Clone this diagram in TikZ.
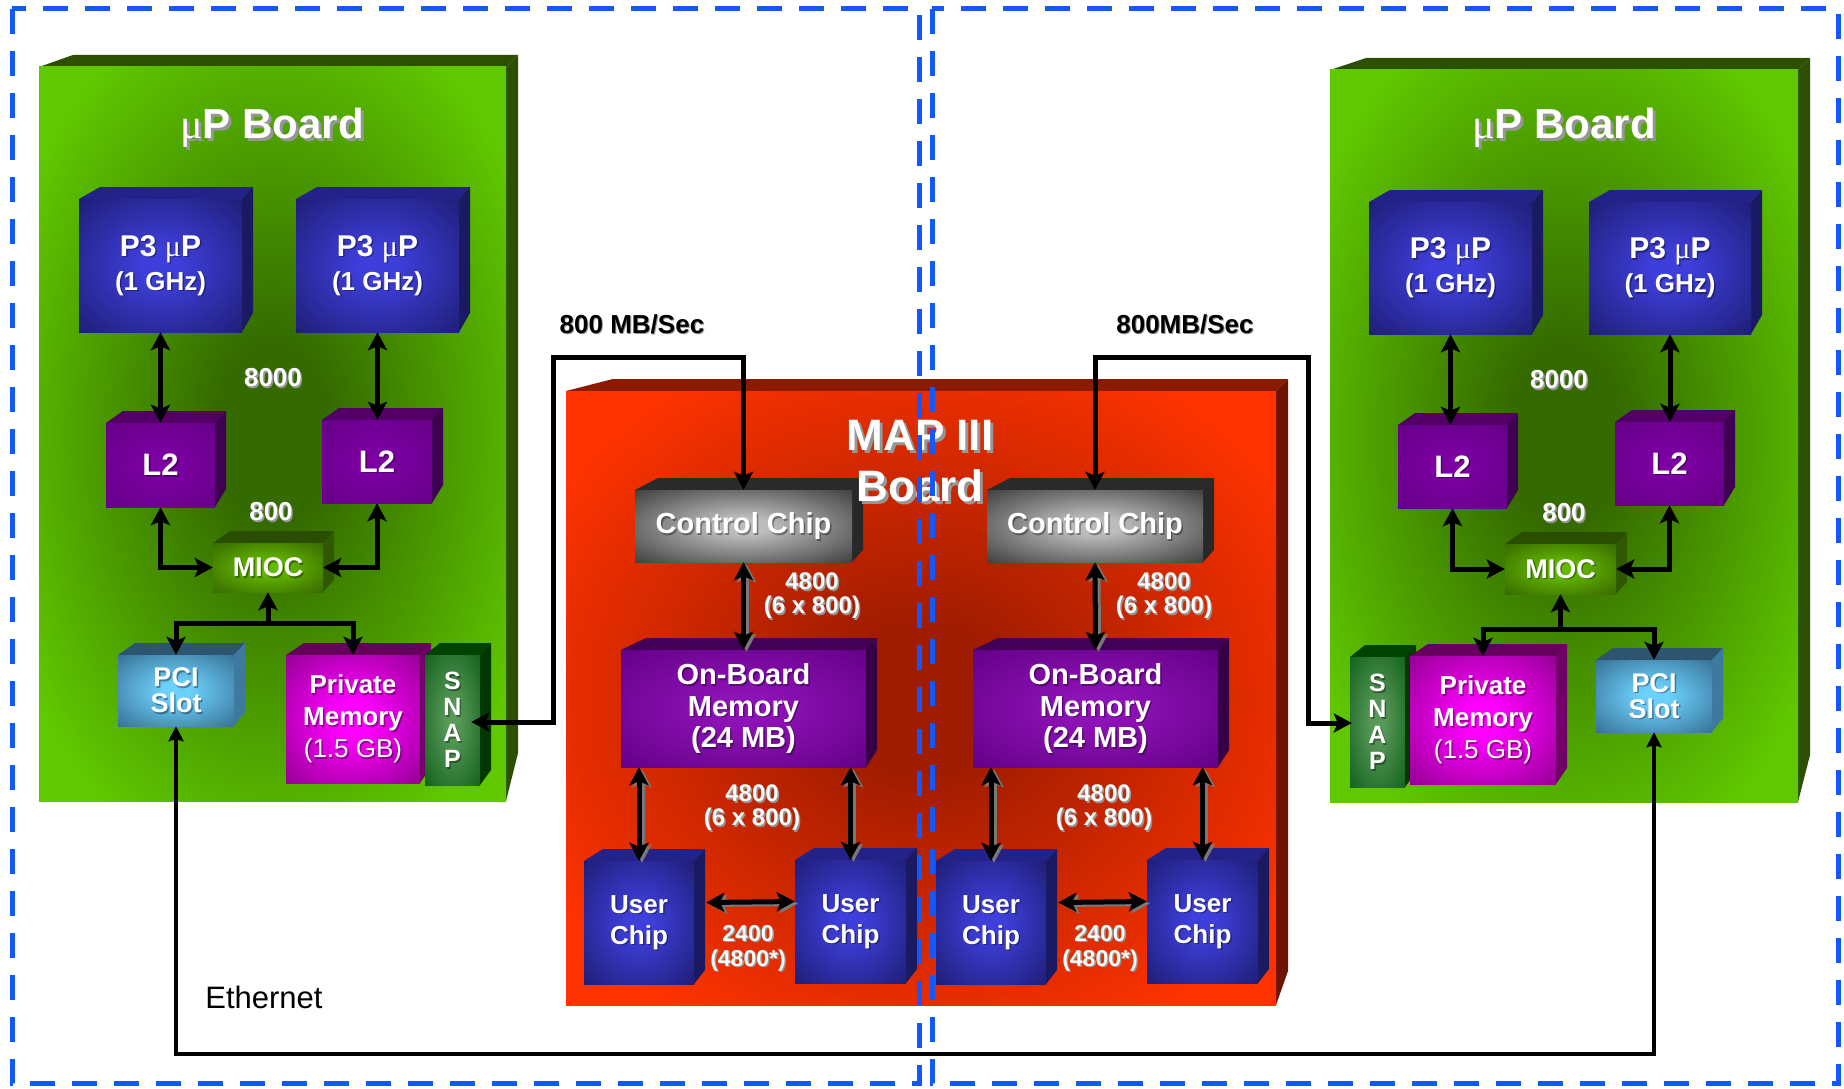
\documentclass[tikz,border=0pt]{standalone}
\usepackage{fontspec}
\setmainfont{Liberation Sans}
\newfontfamily\mufont{Liberation Serif}
\usetikzlibrary{arrows.meta}
\newcommand\muchar{{\mufont\mdseries μ}}
% colours
\definecolor{dashblue}{RGB}{18,88,250}
\definecolor{blueIn}{RGB}{62,62,218}\definecolor{blueOut}{RGB}{30,30,118}\definecolor{blueTop}{RGB}{34,34,136}\definecolor{blueSide}{RGB}{26,26,98}
\definecolor{ltwoIn}{RGB}{124,0,162}\definecolor{ltwoOut}{RGB}{102,0,136}\definecolor{ltwoTop}{RGB}{82,0,102}\definecolor{ltwoSide}{RGB}{62,0,80}
\definecolor{miocIn}{RGB}{100,186,0}\definecolor{miocOut}{RGB}{56,104,0}\definecolor{miocTop}{RGB}{42,78,0}\definecolor{miocSide}{RGB}{48,88,0}
\definecolor{pciIn}{RGB}{108,208,252}\definecolor{pciOut}{RGB}{55,112,148}\definecolor{pciTop}{RGB}{45,85,112}\definecolor{pciSide}{RGB}{62,122,160}
\definecolor{pmIn}{RGB}{255,0,255}\definecolor{pmOut}{RGB}{148,0,148}\definecolor{pmTop}{RGB}{102,0,92}\definecolor{pmSide}{RGB}{112,0,104}
\definecolor{snapIn}{RGB}{88,152,88}\definecolor{snapOut}{RGB}{18,98,28}\definecolor{snapTop}{RGB}{0,66,0}\definecolor{snapSide}{RGB}{0,56,0}
\definecolor{ctlIn}{RGB}{188,188,188}\definecolor{ctlOut}{RGB}{62,62,62}\definecolor{ctlTop}{RGB}{42,42,42}\definecolor{ctlSide}{RGB}{40,40,40}
\definecolor{obmIn}{RGB}{142,18,182}\definecolor{obmOut}{RGB}{100,0,135}\definecolor{obmTop}{RGB}{66,0,86}\definecolor{obmSide}{RGB}{54,0,70}
\definecolor{grnIn}{RGB}{52,106,0}\definecolor{grnOut}{RGB}{96,200,0}\definecolor{grnTop}{RGB}{44,80,0}\definecolor{grnSide}{RGB}{44,80,0}
\definecolor{redIn}{RGB}{160,28,0}\definecolor{redOut}{RGB}{255,51,0}\definecolor{redTop}{RGB}{138,26,0}\definecolor{redSide}{RGB}{108,20,0}
\definecolor{txtsh}{RGB}{150,150,150}
\definecolor{arrsh}{RGB}{120,120,120}
\colorlet{gin}{black}\colorlet{gout}{white}
\pgfdeclareradialshading[gin,gout]{boxglow}{\pgfpoint{0bp}{0bp}}{color(0bp)=(gin);color(6bp)=(gin);color(36bp)=(gout);color(50bp)=(gout)}
\pgfdeclareradialshading[gin,gout]{boardglow}{\pgfpoint{0bp}{0bp}}{color(0bp)=(gin);color(6bp)=(gin);color(31bp)=(gout);color(50bp)=(gout)}
\tikzset{
  lbl/.style={text=white, align=center, inner sep=0pt},
  darr/.style={line width=5pt, arrows={Stealth[length=18pt,width=19pt,inset=4pt]-Stealth[length=18pt,width=19pt,inset=4pt]}},
  sarr/.style={line width=5pt, arrows={-Stealth[length=18pt,width=19pt,inset=4pt]}},
  ethr/.style={line width=3.5pt, arrows={Stealth[length=15pt,width=15pt,inset=2pt]-Stealth[length=15pt,width=15pt,inset=2pt]}},
  dashbox/.style={draw=dashblue, line width=5pt, dash pattern=on 25pt off 17pt}
}
\def\cf{\fontsize{26}{30}\selectfont}
% 3D box: name, x1, y1, x2, y2, colour set, top-left offset, side bottom rise, text (font from \cf)
\newcommand\cube[9]{%
  \colorlet{gin}{#6In}\colorlet{gout}{#6Out}%
  \fill[#6Top] (#2,#3) -- (#2+#7,#3-12) -- (#4+11,#3-12) -- (#4,#3) -- cycle;
  \fill[#6Side] (#4,#3) -- (#4+11,#3-12) -- (#4+11,#5-#8) -- (#4,#5) -- cycle;
  \shade[shading=boxglow] (#2,#3) rectangle (#4,#5);
  \node[lbl, font=\bfseries\cf, text=black, text opacity=0.35] (#1-s) at ({(#2+#4)/2+1.5},{(#3+#5)/2+1.5}) {#9};
  \node[lbl, font=\bfseries\cf, minimum width={#4-#2}, minimum height={#5-#3}] (#1) at ({(#2+#4)/2},{(#3+#5)/2}) {#9};
}
\newcommand\board[7]{%
  \colorlet{gin}{#5In}\colorlet{gout}{#5Out}%
  \fill[#5Top] (#1,#2) -- (#1+#6,#2-12) -- (#3+12,#2-12) -- (#3,#2) -- cycle;
  \fill[#5Side] (#3,#2) -- (#3+12,#2-12) -- (#3+12,#4-#7) -- (#3,#4) -- cycle;
  \shade[shading=boardglow] (#1,#2) rectangle (#3,#4);
}
% shadowed text: name, x, y, font, colour, shadow colour, offset, text
\newcommand\stxt[8]{%
  \node[inner sep=0pt, align=center, font=#4, text=#6] (#1-s) at (#2+#7,#3+#7) {#8};
  \node[inner sep=0pt, align=center, font=#4, text=#5] (#1) at (#2,#3) {#8};
}
\newcommand\redarrow[1]{%
  \draw[darr, color=arrsh, transform canvas={shift={(3pt,-2pt)}}] #1;
  \draw[darr] #1;
}
\begin{document}
\begin{tikzpicture}[x=1pt,y=-1pt]
\fill[white] (0,0) rectangle (1844,1089);
\useasboundingbox (0,0) rectangle (1844,1089);

% boards
\board{39}{67}{506}{801}{grn}{34}{48}
\board{1330}{70}{1798}{802}{grn}{36}{47}
\board{566}{391}{1276}{1005}{red}{47}{34}

% left uP board
\def\cf{\fontsize{30}{34}\selectfont}
\cube{p3a}{79}{199}{242}{332}{blue}{21}{19}{P3 \muchar P\\\fontsize{26}{34}\selectfont (1 GHz)}
\cube{p3b}{296}{199}{459}{332}{blue}{21}{19}{P3 \muchar P\\\fontsize{26}{34}\selectfont (1 GHz)}
\def\cf{\fontsize{31}{34}\selectfont}
\cube{l2a}{106}{423}{215}{507}{ltwo}{17}{18}{L2}
\cube{l2b}{322}{420}{432}{503}{ltwo}{17}{18}{L2}
\def\cf{\fontsize{27}{30}\selectfont}
\cube{mioca}{213}{543}{323}{592}{mioc}{17}{12}{MIOC}
\def\cf{\fontsize{27}{26}\selectfont}
\cube{pcia}{118}{655}{234}{726}{pci}{17}{14}{PCI\\Slot}
\def\cf{\fontsize{26}{32}\selectfont}
\cube{pma}{286}{655}{420}{783}{pm}{18}{16}{Private\\Memory\\\mdseries (1.5 GB)}
\def\cf{\fontsize{25}{26}\selectfont}
\cube{snapa}{425}{655}{480}{785}{snap}{15}{15}{S\\N\\A\\P}

% right uP board
\def\cf{\fontsize{30}{34}\selectfont}
\cube{p3c}{1369}{202}{1532}{334}{blue}{21}{19}{P3 \muchar P\\\fontsize{26}{34}\selectfont (1 GHz)}
\cube{p3d}{1589}{202}{1751}{334}{blue}{21}{19}{P3 \muchar P\\\fontsize{26}{34}\selectfont (1 GHz)}
\def\cf{\fontsize{31}{34}\selectfont}
\cube{l2c}{1398}{425}{1507}{508}{ltwo}{17}{18}{L2}
\cube{l2d}{1615}{422}{1724}{505}{ltwo}{17}{18}{L2}
\def\cf{\fontsize{27}{30}\selectfont}
\cube{miocb}{1505}{544}{1616}{594}{mioc}{17}{12}{MIOC}
\def\cf{\fontsize{25}{26}\selectfont}
\cube{snapb}{1350}{657}{1405}{787}{snap}{15}{15}{S\\N\\A\\P}
\def\cf{\fontsize{26}{32}\selectfont}
\cube{pmb}{1410}{656}{1556}{784}{pm}{18}{16}{Private\\Memory\\\mdseries (1.5 GB)}
\def\cf{\fontsize{27}{26}\selectfont}
\cube{pcib}{1596}{660}{1712}{732}{pci}{17}{14}{PCI\\Slot}

% MAP board
\def\cf{\fontsize{29}{32}\selectfont}
\cube{cca}{635}{490}{852}{562}{ctl}{23}{12}{Control Chip}
\cube{ccb}{987}{490}{1203}{562}{ctl}{23}{12}{Control Chip}
\def\cf{\fontsize{29}{31.5}\selectfont}
\cube{obma}{621}{650}{866}{767}{obm}{25}{17}{On-Board\\Memory\\(24 MB)}
\cube{obmb}{973}{650}{1218}{767}{obm}{25}{17}{On-Board\\Memory\\(24 MB)}
\def\cf{\fontsize{26}{31}\selectfont}
\cube{uca}{584}{861}{694}{984}{blue}{19}{14}{User\\Chip}
\cube{ucb}{795}{860}{906}{983}{blue}{19}{14}{User\\Chip}
\cube{ucc}{936}{861}{1046}{984}{blue}{19}{14}{User\\Chip}
\cube{ucd}{1147}{860}{1258}{983}{blue}{19}{14}{User\\Chip}

% arrows left board
\draw[darr] (p3a.south) -- (p3a.south |- l2a.north);
\draw[darr] (p3b.south) -- (p3b.south |- l2b.north);
\draw[darr] (l2a.south) |- (mioca.west);
\draw[darr] (l2b.south) |- (mioca.east);
\coordinate (ja) at ([shift={(0,31)}]mioca.south);
\draw[darr] (mioca.south) -- (ja) -| (pcia.north);
\draw[sarr] (ja) -| (pma.north);

% arrows right board
\draw[darr] (p3c.south) -- (p3c.south |- l2c.north);
\draw[darr] (p3d.south) -- (p3d.south |- l2d.north);
\draw[darr] (l2c.south) |- (miocb.west);
\draw[darr] (l2d.south) |- (miocb.east);
\coordinate (jb) at ([shift={(0,35)}]miocb.south);
\draw[darr] (miocb.south) -- (jb) -| (pmb.north);
\draw[sarr] (jb) -| (pcib.north);

% arrows MAP board
\redarrow{(cca.south) -- (obma.north)}
\redarrow{(obma.south -| uca.north) -- (uca.north)}
\redarrow{(obma.south -| ucb.north) -- (ucb.north)}
\redarrow{([shift={(12,-20)}]uca.east) -- ([shift={(0,-20)}]ucb.west)}
\redarrow{(ccb.south) -- (obmb.north)}
\redarrow{(obmb.south -| ucc.north) -- (ucc.north)}
\redarrow{(obmb.south -| ucd.north) -- (ucd.north)}
\redarrow{([shift={(12,-20)}]ucc.east) -- ([shift={(0,-20)}]ucd.west)}

% SNAP links
\draw[darr] (cca.north) |- (553,357) |- ([shift={(-9,2)}]snapa.east);
\draw[darr] (ccb.north) |- (1308,357) |- ([shift={(2,1)}]snapb.west);

% Ethernet
\draw[ethr] (pcia.south) -- ++(0,328) -| (pcib.south);
\node[inner sep=0pt, font=\fontsize{31}{36}\selectfont] (eth) at (264,997) {Ethernet};

% labels
\stxt{ta}{272}{128}{\bfseries\fontsize{42}{48}\selectfont}{white}{txtsh}{3}{\muchar P Board}
\stxt{tb}{1564}{128}{\bfseries\fontsize{42}{48}\selectfont}{white}{txtsh}{3}{\muchar P Board}
\stxt{map}{920}{461}{\bfseries\fontsize{44}{51}\selectfont}{white}{txtsh}{3}{MAP III\\Board}
\stxt{na}{273}{378}{\bfseries\fontsize{26}{28}\selectfont}{white}{txtsh}{1.5}{8000}
\stxt{nb}{271}{512}{\bfseries\fontsize{26}{28}\selectfont}{white}{txtsh}{1.5}{800}
\stxt{nc}{1559}{380}{\bfseries\fontsize{26}{28}\selectfont}{white}{txtsh}{1.5}{8000}
\stxt{nd}{1564}{513}{\bfseries\fontsize{26}{28}\selectfont}{white}{txtsh}{1.5}{800}
\stxt{ra}{812}{596}{\bfseries\fontsize{24}{24}\selectfont}{white}{txtsh}{1.5}{4800\\(6 x 800)}
\stxt{rb}{1164}{596}{\bfseries\fontsize{24}{24}\selectfont}{white}{txtsh}{1.5}{4800\\(6 x 800)}
\stxt{rc}{752}{808}{\bfseries\fontsize{24}{24}\selectfont}{white}{txtsh}{1.5}{4800\\(6 x 800)}
\stxt{rd}{1104}{808}{\bfseries\fontsize{24}{24}\selectfont}{white}{txtsh}{1.5}{4800\\(6 x 800)}
\stxt{re}{748}{948}{\bfseries\fontsize{23}{25}\selectfont}{white}{txtsh}{1.5}{2400\\(4800*)}
\stxt{rf}{1100}{948}{\bfseries\fontsize{23}{25}\selectfont}{white}{txtsh}{1.5}{2400\\(4800*)}
\stxt{bwa}{632}{324}{\bfseries\fontsize{26}{28}\selectfont}{black}{txtsh}{1}{800 MB/Sec}
\stxt{bwb}{1185}{324}{\bfseries\fontsize{26}{28}\selectfont}{black}{txtsh}{1}{800MB/Sec}

% dashed enclosures
\draw[dashbox] (12,9) rectangle (919,1083);
\draw[dashbox] (932,9) rectangle (1838,1083);
\end{tikzpicture}
\end{document}
